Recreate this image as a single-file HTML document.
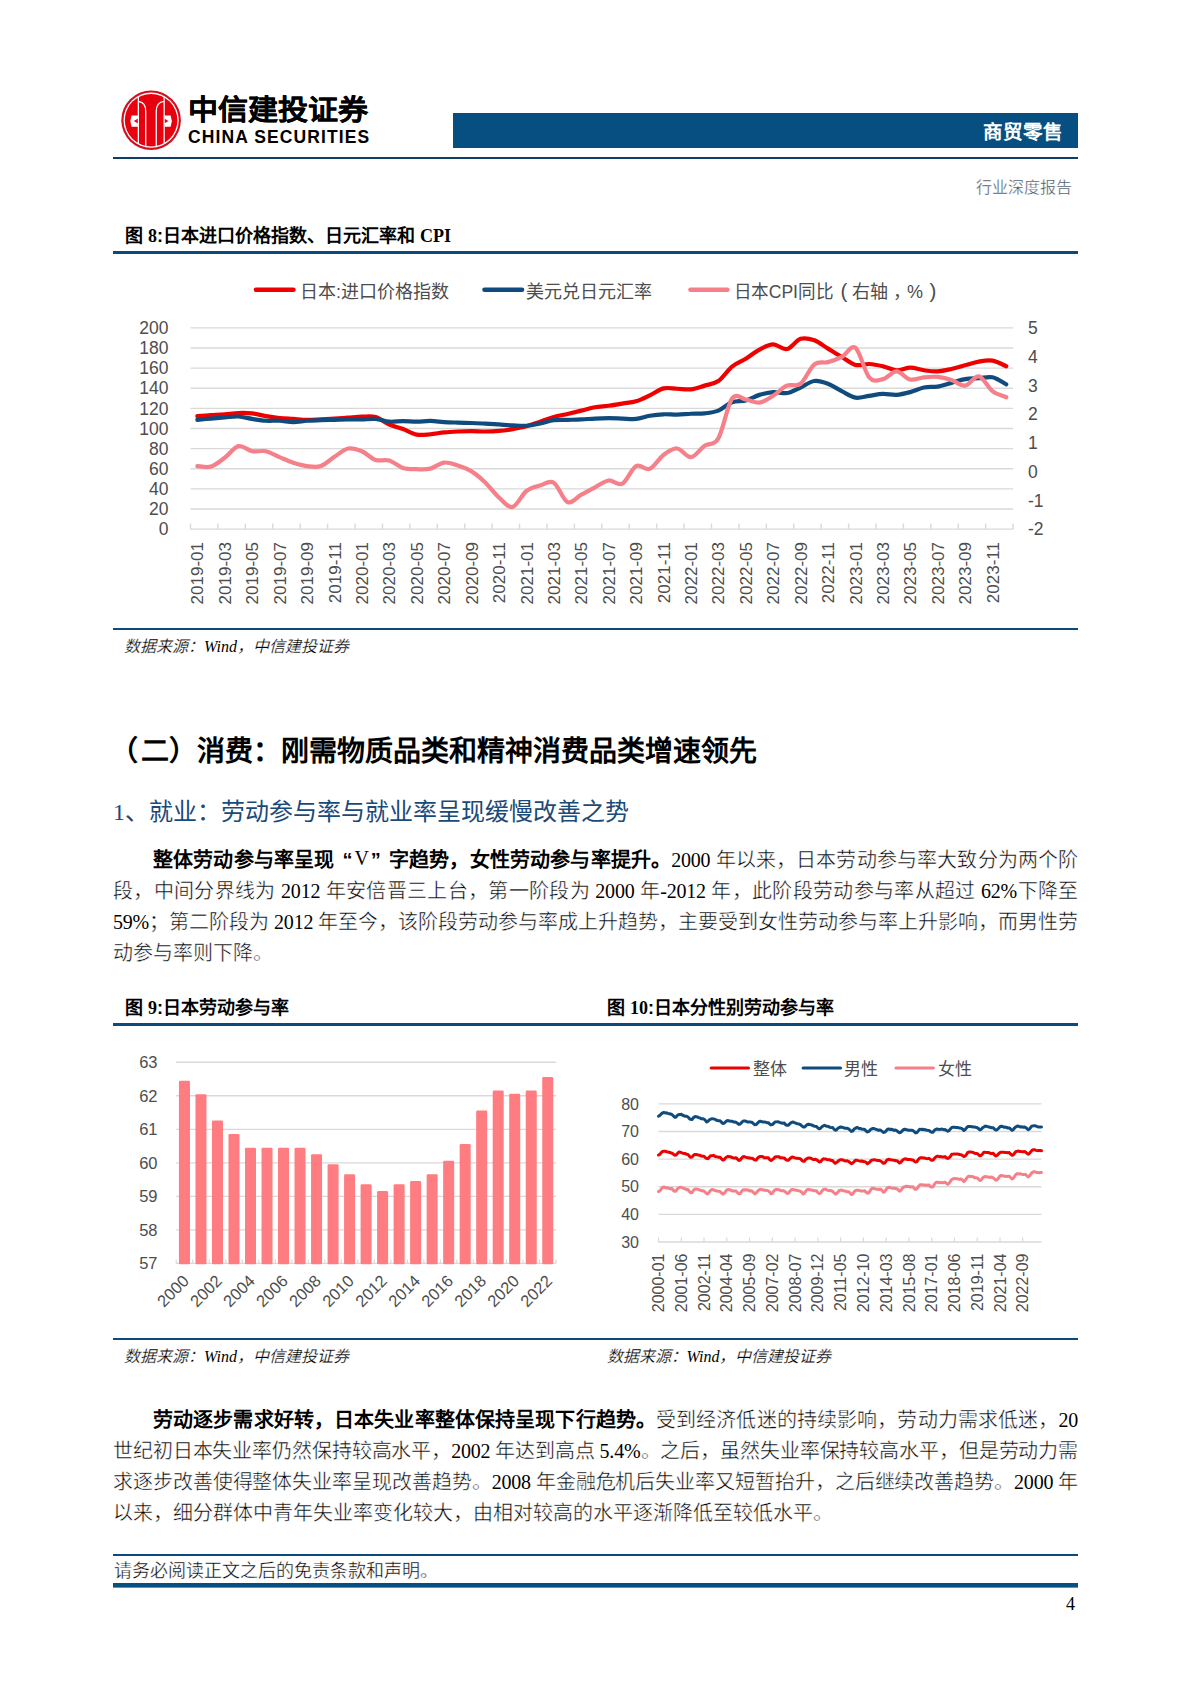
<!DOCTYPE html>
<html lang="zh-CN">
<head>
<meta charset="utf-8">
<style>
html,body{margin:0;padding:0;background:#fff;}
body{width:1190px;height:1683px;position:relative;overflow:hidden;font-family:"Liberation Serif",serif;color:#000;}
svg.pg{position:absolute;left:0;top:0;}
.ax{font-family:"Liberation Sans",sans-serif;fill:#4d4d4d;}
.a{position:absolute;white-space:nowrap;}
.sans{font-family:"Liberation Sans",sans-serif;}
.serif{font-family:"Liberation Serif",serif;}
.ln{position:absolute;left:113px;width:965px;font-size:20px;line-height:20px;height:20px;white-space:nowrap;text-align:justify;text-align-last:justify;color:#000;letter-spacing:-0.2px;}
.q{display:inline-block;width:20px;}
.thin{-webkit-text-stroke:0.45px #fff;}
.ln{-webkit-text-stroke:0.45px #fff;}
.ln .b,.lat{-webkit-text-stroke:0;}
.ln.last{text-align:left;text-align-last:left;letter-spacing:0;}
.b{font-family:"Liberation Sans",sans-serif;font-weight:bold;}
.bs{font-family:"Liberation Serif",serif;font-weight:bold;}
.ft{font-size:18px;line-height:18px;font-weight:bold;font-family:"Liberation Sans",sans-serif;}
.src{font-size:16px;line-height:16px;font-style:italic;color:#000;-webkit-text-stroke:0.2px #fff;}
</style>
</head>
<body>
<svg class="pg" width="1190" height="1683" viewBox="0 0 1190 1683">
<circle cx="151.1" cy="120.2" r="29.8" fill="#d0101e"/>
<circle cx="151.1" cy="120.2" r="27.6" fill="#fff"/>
<circle cx="151.1" cy="120.2" r="26.3" fill="#e8000f"/>
<line x1="138.35" y1="96.62" x2="138.35" y2="143.78" stroke="#fff" stroke-width="1.25"/>
<line x1="164.15" y1="96.79" x2="164.15" y2="143.61" stroke="#fff" stroke-width="1.25"/>
<path d="M145.73,146.46 L145.73,111.37 C145.73,104.87 142.73,101.87 138.35,101.37" fill="none" stroke="#fff" stroke-width="1.25"/>
<path d="M156.27,146.50 L156.27,111.37 C156.27,104.87 159.27,101.87 164.15,101.37" fill="none" stroke="#fff" stroke-width="1.25"/>
<polygon points="131.59,115.45 137.97,115.45 137.97,118.50 133.81,121.00 137.97,123.50 137.97,126.82 131.59,126.82 130.31,121.11" fill="#fff"/>
<polygon points="170.63,115.45 164.26,115.45 164.26,118.50 168.42,121.00 164.26,123.50 164.26,126.82 170.63,126.82 171.91,121.11" fill="#fff"/>
<rect x="453" y="113" width="625" height="35" fill="#064f80"/>
<rect x="113" y="157" width="965" height="2" fill="#0d3f66"/>
<rect x="113" y="251" width="965" height="3" fill="#0b4a7a"/>
<line x1="190.5" y1="529.10" x2="1013.1" y2="529.10" stroke="#d9d9d9" stroke-width="1.4"/>
<line x1="190.5" y1="508.98" x2="1013.1" y2="508.98" stroke="#d9d9d9" stroke-width="1.4"/>
<line x1="190.5" y1="488.86" x2="1013.1" y2="488.86" stroke="#d9d9d9" stroke-width="1.4"/>
<line x1="190.5" y1="468.74" x2="1013.1" y2="468.74" stroke="#d9d9d9" stroke-width="1.4"/>
<line x1="190.5" y1="448.62" x2="1013.1" y2="448.62" stroke="#d9d9d9" stroke-width="1.4"/>
<line x1="190.5" y1="428.50" x2="1013.1" y2="428.50" stroke="#d9d9d9" stroke-width="1.4"/>
<line x1="190.5" y1="408.38" x2="1013.1" y2="408.38" stroke="#d9d9d9" stroke-width="1.4"/>
<line x1="190.5" y1="388.26" x2="1013.1" y2="388.26" stroke="#d9d9d9" stroke-width="1.4"/>
<line x1="190.5" y1="368.14" x2="1013.1" y2="368.14" stroke="#d9d9d9" stroke-width="1.4"/>
<line x1="190.5" y1="348.02" x2="1013.1" y2="348.02" stroke="#d9d9d9" stroke-width="1.4"/>
<line x1="190.5" y1="327.90" x2="1013.1" y2="327.90" stroke="#d9d9d9" stroke-width="1.4"/>
<line x1="190.50" y1="523.60" x2="190.50" y2="529.10" stroke="#d9d9d9" stroke-width="1.4"/>
<line x1="217.92" y1="523.60" x2="217.92" y2="529.10" stroke="#d9d9d9" stroke-width="1.4"/>
<line x1="245.34" y1="523.60" x2="245.34" y2="529.10" stroke="#d9d9d9" stroke-width="1.4"/>
<line x1="272.76" y1="523.60" x2="272.76" y2="529.10" stroke="#d9d9d9" stroke-width="1.4"/>
<line x1="300.18" y1="523.60" x2="300.18" y2="529.10" stroke="#d9d9d9" stroke-width="1.4"/>
<line x1="327.60" y1="523.60" x2="327.60" y2="529.10" stroke="#d9d9d9" stroke-width="1.4"/>
<line x1="355.02" y1="523.60" x2="355.02" y2="529.10" stroke="#d9d9d9" stroke-width="1.4"/>
<line x1="382.44" y1="523.60" x2="382.44" y2="529.10" stroke="#d9d9d9" stroke-width="1.4"/>
<line x1="409.86" y1="523.60" x2="409.86" y2="529.10" stroke="#d9d9d9" stroke-width="1.4"/>
<line x1="437.28" y1="523.60" x2="437.28" y2="529.10" stroke="#d9d9d9" stroke-width="1.4"/>
<line x1="464.70" y1="523.60" x2="464.70" y2="529.10" stroke="#d9d9d9" stroke-width="1.4"/>
<line x1="492.12" y1="523.60" x2="492.12" y2="529.10" stroke="#d9d9d9" stroke-width="1.4"/>
<line x1="519.54" y1="523.60" x2="519.54" y2="529.10" stroke="#d9d9d9" stroke-width="1.4"/>
<line x1="546.96" y1="523.60" x2="546.96" y2="529.10" stroke="#d9d9d9" stroke-width="1.4"/>
<line x1="574.38" y1="523.60" x2="574.38" y2="529.10" stroke="#d9d9d9" stroke-width="1.4"/>
<line x1="601.80" y1="523.60" x2="601.80" y2="529.10" stroke="#d9d9d9" stroke-width="1.4"/>
<line x1="629.22" y1="523.60" x2="629.22" y2="529.10" stroke="#d9d9d9" stroke-width="1.4"/>
<line x1="656.64" y1="523.60" x2="656.64" y2="529.10" stroke="#d9d9d9" stroke-width="1.4"/>
<line x1="684.06" y1="523.60" x2="684.06" y2="529.10" stroke="#d9d9d9" stroke-width="1.4"/>
<line x1="711.48" y1="523.60" x2="711.48" y2="529.10" stroke="#d9d9d9" stroke-width="1.4"/>
<line x1="738.90" y1="523.60" x2="738.90" y2="529.10" stroke="#d9d9d9" stroke-width="1.4"/>
<line x1="766.32" y1="523.60" x2="766.32" y2="529.10" stroke="#d9d9d9" stroke-width="1.4"/>
<line x1="793.74" y1="523.60" x2="793.74" y2="529.10" stroke="#d9d9d9" stroke-width="1.4"/>
<line x1="821.16" y1="523.60" x2="821.16" y2="529.10" stroke="#d9d9d9" stroke-width="1.4"/>
<line x1="848.58" y1="523.60" x2="848.58" y2="529.10" stroke="#d9d9d9" stroke-width="1.4"/>
<line x1="876.00" y1="523.60" x2="876.00" y2="529.10" stroke="#d9d9d9" stroke-width="1.4"/>
<line x1="903.42" y1="523.60" x2="903.42" y2="529.10" stroke="#d9d9d9" stroke-width="1.4"/>
<line x1="930.84" y1="523.60" x2="930.84" y2="529.10" stroke="#d9d9d9" stroke-width="1.4"/>
<line x1="958.26" y1="523.60" x2="958.26" y2="529.10" stroke="#d9d9d9" stroke-width="1.4"/>
<line x1="985.68" y1="523.60" x2="985.68" y2="529.10" stroke="#d9d9d9" stroke-width="1.4"/>
<line x1="1013.10" y1="523.60" x2="1013.10" y2="529.10" stroke="#d9d9d9" stroke-width="1.4"/>
<text x="168.5" y="535.30" text-anchor="end" class="ax" font-size="17.5">0</text>
<text x="168.5" y="515.18" text-anchor="end" class="ax" font-size="17.5">20</text>
<text x="168.5" y="495.06" text-anchor="end" class="ax" font-size="17.5">40</text>
<text x="168.5" y="474.94" text-anchor="end" class="ax" font-size="17.5">60</text>
<text x="168.5" y="454.82" text-anchor="end" class="ax" font-size="17.5">80</text>
<text x="168.5" y="434.70" text-anchor="end" class="ax" font-size="17.5">100</text>
<text x="168.5" y="414.58" text-anchor="end" class="ax" font-size="17.5">120</text>
<text x="168.5" y="394.46" text-anchor="end" class="ax" font-size="17.5">140</text>
<text x="168.5" y="374.34" text-anchor="end" class="ax" font-size="17.5">160</text>
<text x="168.5" y="354.22" text-anchor="end" class="ax" font-size="17.5">180</text>
<text x="168.5" y="334.10" text-anchor="end" class="ax" font-size="17.5">200</text>
<text x="1028" y="535.30" class="ax" font-size="17.5">-2</text>
<text x="1028" y="506.56" class="ax" font-size="17.5">-1</text>
<text x="1028" y="477.81" class="ax" font-size="17.5">0</text>
<text x="1028" y="449.07" class="ax" font-size="17.5">1</text>
<text x="1028" y="420.33" class="ax" font-size="17.5">2</text>
<text x="1028" y="391.59" class="ax" font-size="17.5">3</text>
<text x="1028" y="362.84" class="ax" font-size="17.5">4</text>
<text x="1028" y="334.10" class="ax" font-size="17.5">5</text>
<text transform="translate(203.45,542) rotate(-90)" text-anchor="end" class="ax" font-size="17">2019-01</text>
<text transform="translate(230.88,542) rotate(-90)" text-anchor="end" class="ax" font-size="17">2019-03</text>
<text transform="translate(258.30,542) rotate(-90)" text-anchor="end" class="ax" font-size="17">2019-05</text>
<text transform="translate(285.72,542) rotate(-90)" text-anchor="end" class="ax" font-size="17">2019-07</text>
<text transform="translate(313.14,542) rotate(-90)" text-anchor="end" class="ax" font-size="17">2019-09</text>
<text transform="translate(340.56,542) rotate(-90)" text-anchor="end" class="ax" font-size="17">2019-11</text>
<text transform="translate(367.98,542) rotate(-90)" text-anchor="end" class="ax" font-size="17">2020-01</text>
<text transform="translate(395.40,542) rotate(-90)" text-anchor="end" class="ax" font-size="17">2020-03</text>
<text transform="translate(422.82,542) rotate(-90)" text-anchor="end" class="ax" font-size="17">2020-05</text>
<text transform="translate(450.24,542) rotate(-90)" text-anchor="end" class="ax" font-size="17">2020-07</text>
<text transform="translate(477.66,542) rotate(-90)" text-anchor="end" class="ax" font-size="17">2020-09</text>
<text transform="translate(505.08,542) rotate(-90)" text-anchor="end" class="ax" font-size="17">2020-11</text>
<text transform="translate(532.50,542) rotate(-90)" text-anchor="end" class="ax" font-size="17">2021-01</text>
<text transform="translate(559.92,542) rotate(-90)" text-anchor="end" class="ax" font-size="17">2021-03</text>
<text transform="translate(587.34,542) rotate(-90)" text-anchor="end" class="ax" font-size="17">2021-05</text>
<text transform="translate(614.75,542) rotate(-90)" text-anchor="end" class="ax" font-size="17">2021-07</text>
<text transform="translate(642.18,542) rotate(-90)" text-anchor="end" class="ax" font-size="17">2021-09</text>
<text transform="translate(669.60,542) rotate(-90)" text-anchor="end" class="ax" font-size="17">2021-11</text>
<text transform="translate(697.01,542) rotate(-90)" text-anchor="end" class="ax" font-size="17">2022-01</text>
<text transform="translate(724.44,542) rotate(-90)" text-anchor="end" class="ax" font-size="17">2022-03</text>
<text transform="translate(751.86,542) rotate(-90)" text-anchor="end" class="ax" font-size="17">2022-05</text>
<text transform="translate(779.28,542) rotate(-90)" text-anchor="end" class="ax" font-size="17">2022-07</text>
<text transform="translate(806.70,542) rotate(-90)" text-anchor="end" class="ax" font-size="17">2022-09</text>
<text transform="translate(834.12,542) rotate(-90)" text-anchor="end" class="ax" font-size="17">2022-11</text>
<text transform="translate(861.54,542) rotate(-90)" text-anchor="end" class="ax" font-size="17">2023-01</text>
<text transform="translate(888.96,542) rotate(-90)" text-anchor="end" class="ax" font-size="17">2023-03</text>
<text transform="translate(916.38,542) rotate(-90)" text-anchor="end" class="ax" font-size="17">2023-05</text>
<text transform="translate(943.80,542) rotate(-90)" text-anchor="end" class="ax" font-size="17">2023-07</text>
<text transform="translate(971.22,542) rotate(-90)" text-anchor="end" class="ax" font-size="17">2023-09</text>
<text transform="translate(998.64,542) rotate(-90)" text-anchor="end" class="ax" font-size="17">2023-11</text>
<path d="M197.35,416.14 C199.64,415.98 206.50,415.52 211.06,415.21 C215.63,414.90 220.21,414.66 224.78,414.29 C229.34,413.92 233.92,413.15 238.49,412.99 C243.06,412.84 247.62,412.84 252.19,413.36 C256.76,413.89 261.33,415.37 265.90,416.14 C270.47,416.91 275.05,417.52 279.62,417.98 C284.19,418.45 288.75,418.60 293.32,418.91 C297.89,419.22 302.47,419.77 307.04,419.83 C311.61,419.90 316.18,419.49 320.75,419.28 C325.31,419.06 329.89,418.82 334.46,418.54 C339.03,418.26 343.60,417.92 348.17,417.62 C352.74,417.31 357.31,416.78 361.88,416.69 C366.44,416.60 371.02,415.77 375.59,417.06 C380.16,418.35 384.73,422.45 389.30,424.46 C393.87,426.46 398.44,427.38 403.00,429.08 C407.57,430.77 412.15,433.76 416.72,434.62 C421.29,435.49 425.86,434.62 430.43,434.25 C435.00,433.88 439.56,432.87 444.13,432.41 C448.70,431.94 453.28,431.70 457.85,431.48 C462.42,431.27 466.99,431.11 471.56,431.11 C476.12,431.11 480.70,431.51 485.27,431.48 C489.84,431.45 494.41,431.33 498.98,430.93 C503.55,430.53 508.11,429.85 512.68,429.08 C517.25,428.31 521.82,427.54 526.39,426.30 C530.97,425.07 535.53,423.22 540.11,421.68 C544.68,420.14 549.25,418.35 553.82,417.06 C558.39,415.77 562.96,415.00 567.53,413.92 C572.10,412.84 576.66,411.70 581.24,410.59 C585.81,409.48 590.38,408.06 594.95,407.26 C599.52,406.46 604.09,406.40 608.65,405.78 C613.22,405.17 617.79,404.30 622.37,403.56 C626.94,402.82 631.50,402.70 636.08,401.35 C640.65,399.99 645.22,397.59 649.79,395.43 C654.36,393.27 658.92,389.51 663.50,388.40 C668.07,387.30 672.63,388.62 677.21,388.77 C681.78,388.93 686.35,389.85 690.91,389.33 C695.48,388.81 700.05,387.02 704.62,385.63 C709.20,384.24 713.76,384.18 718.34,381.01 C722.91,377.84 727.48,370.29 732.05,366.59 C736.62,362.89 741.18,361.66 745.75,358.82 C750.33,355.99 754.89,351.98 759.47,349.58 C764.04,347.18 768.61,344.50 773.18,344.40 C777.75,344.31 782.32,349.95 786.88,349.03 C791.45,348.10 796.02,340.31 800.60,338.86 C805.17,337.41 809.74,338.70 814.31,340.34 C818.88,341.97 823.44,345.88 828.01,348.66 C832.59,351.43 837.15,354.26 841.73,356.98 C846.30,359.69 850.87,363.75 855.44,364.93 C860.01,366.10 864.58,363.79 869.15,364.00 C873.72,364.22 878.29,365.17 882.86,366.22 C887.42,367.27 892.00,370.04 896.57,370.29 C901.14,370.53 905.71,367.70 910.28,367.70 C914.85,367.70 919.41,369.67 923.99,370.29 C928.56,370.90 933.12,371.61 937.70,371.40 C942.27,371.18 946.84,370.01 951.41,368.99 C955.98,367.98 960.55,366.53 965.12,365.29 C969.68,364.06 974.25,362.37 978.83,361.60 C983.40,360.83 987.97,359.90 992.54,360.67 C997.11,361.44 1003.96,365.29 1006.25,366.22" fill="none" stroke="#ee0000" stroke-width="4.2" stroke-linejoin="round" stroke-linecap="round"/>
<path d="M197.35,419.83 C199.64,419.62 206.50,418.94 211.06,418.54 C215.63,418.14 220.21,417.77 224.78,417.43 C229.34,417.09 233.92,416.26 238.49,416.51 C243.06,416.75 247.62,418.20 252.19,418.91 C256.76,419.62 261.33,420.45 265.90,420.76 C270.47,421.07 275.05,420.51 279.62,420.76 C284.19,421.00 288.75,422.24 293.32,422.24 C297.89,422.24 302.47,421.10 307.04,420.76 C311.61,420.42 316.18,420.36 320.75,420.20 C325.31,420.05 329.89,419.96 334.46,419.83 C339.03,419.71 343.60,419.56 348.17,419.46 C352.74,419.37 357.31,419.37 361.88,419.28 C366.44,419.19 371.02,418.51 375.59,418.91 C380.16,419.31 384.73,421.31 389.30,421.68 C393.87,422.05 398.44,421.13 403.00,421.13 C407.57,421.13 412.15,421.71 416.72,421.68 C421.29,421.65 425.86,420.88 430.43,420.94 C435.00,421.00 439.56,421.77 444.13,422.05 C448.70,422.33 453.28,422.45 457.85,422.61 C462.42,422.76 466.99,422.82 471.56,422.98 C476.12,423.13 480.70,423.28 485.27,423.53 C489.84,423.78 494.41,424.15 498.98,424.46 C503.55,424.76 508.11,425.16 512.68,425.38 C517.25,425.60 521.82,426.06 526.39,425.75 C530.97,425.44 535.53,424.46 540.11,423.53 C544.68,422.61 549.25,420.82 553.82,420.20 C558.39,419.59 562.96,419.96 567.53,419.83 C572.10,419.71 576.66,419.68 581.24,419.46 C585.81,419.25 590.38,418.76 594.95,418.54 C599.52,418.32 604.09,418.17 608.65,418.17 C613.22,418.17 617.79,418.42 622.37,418.54 C626.94,418.66 631.50,419.37 636.08,418.91 C640.65,418.45 645.22,416.54 649.79,415.77 C654.36,415.00 658.92,414.47 663.50,414.29 C668.07,414.10 672.63,414.75 677.21,414.66 C681.78,414.56 686.35,413.95 690.91,413.73 C695.48,413.52 700.05,413.89 704.62,413.36 C709.20,412.84 713.76,412.44 718.34,410.59 C722.91,408.74 727.48,403.96 732.05,402.27 C736.62,400.58 741.18,401.65 745.75,400.42 C750.33,399.19 754.89,396.26 759.47,394.88 C764.04,393.49 768.61,392.41 773.18,392.10 C777.75,391.79 782.32,393.80 786.88,393.03 C791.45,392.26 796.02,389.48 800.60,387.48 C805.17,385.48 809.74,381.63 814.31,381.01 C818.88,380.39 823.44,382.09 828.01,383.78 C832.59,385.48 837.15,388.87 841.73,391.18 C846.30,393.49 850.87,396.88 855.44,397.65 C860.01,398.42 864.58,396.42 869.15,395.80 C873.72,395.18 878.29,394.10 882.86,393.95 C887.42,393.80 892.00,395.18 896.57,394.88 C901.14,394.57 905.71,393.33 910.28,392.10 C914.85,390.87 919.41,388.40 923.99,387.48 C928.56,386.56 933.12,387.33 937.70,386.56 C942.27,385.79 946.84,384.09 951.41,382.86 C955.98,381.63 960.55,379.93 965.12,379.16 C969.68,378.39 974.25,378.54 978.83,378.24 C983.40,377.93 987.97,376.30 992.54,377.31 C997.11,378.33 1003.96,383.17 1006.25,384.34" fill="none" stroke="#0f4c7d" stroke-width="4.2" stroke-linejoin="round" stroke-linecap="round"/>
<path d="M197.35,466.05 C199.64,466.15 206.50,467.99 211.06,466.61 C215.63,465.22 220.21,461.15 224.78,457.73 C229.34,454.31 233.92,447.16 238.49,446.09 C243.06,445.01 247.62,450.40 252.19,451.26 C256.76,452.13 261.33,450.28 265.90,451.26 C270.47,452.25 275.05,455.27 279.62,457.18 C284.19,459.09 288.75,461.25 293.32,462.73 C297.89,464.20 302.47,465.50 307.04,466.05 C311.61,466.61 316.18,467.59 320.75,466.05 C325.31,464.51 329.89,459.74 334.46,456.81 C339.03,453.88 343.60,449.41 348.17,448.49 C352.74,447.57 357.31,449.35 361.88,451.26 C366.44,453.17 371.02,458.41 375.59,459.95 C380.16,461.49 384.73,459.18 389.30,460.51 C393.87,461.83 398.44,466.45 403.00,467.90 C407.57,469.35 412.15,469.07 416.72,469.20 C421.29,469.32 425.86,469.75 430.43,468.64 C435.00,467.53 439.56,463.06 444.13,462.54 C448.70,462.02 453.28,464.02 457.85,465.50 C462.42,466.98 466.99,468.58 471.56,471.41 C476.12,474.25 480.70,478.16 485.27,482.51 C489.84,486.85 494.41,493.41 498.98,497.48 C503.55,501.55 508.11,507.99 512.68,506.91 C517.25,505.83 521.82,494.59 526.39,491.01 C530.97,487.44 535.53,486.85 540.11,485.46 C544.68,484.08 549.25,479.92 553.82,482.69 C558.39,485.46 562.96,500.10 567.53,502.10 C572.10,504.11 576.66,497.17 581.24,494.71 C585.81,492.24 590.38,489.69 594.95,487.31 C599.52,484.94 604.09,481.09 608.65,480.47 C613.22,479.86 617.79,486.02 622.37,483.62 C626.94,481.21 631.50,468.52 636.08,466.05 C640.65,463.59 645.22,470.67 649.79,468.83 C654.36,466.98 658.92,458.35 663.50,454.96 C668.07,451.57 672.63,448.12 677.21,448.49 C681.78,448.86 686.35,457.64 690.91,457.18 C695.48,456.72 700.05,448.86 704.62,445.72 C709.20,442.57 713.76,446.18 718.34,438.32 C722.91,430.46 727.48,405.04 732.05,398.57 C736.62,392.10 741.18,398.82 745.75,399.50 C750.33,400.18 754.89,403.26 759.47,402.64 C764.04,402.02 768.61,398.63 773.18,395.80 C777.75,392.96 782.32,387.63 786.88,385.63 C791.45,383.63 796.02,387.33 800.60,383.78 C805.17,380.24 809.74,367.98 814.31,364.37 C818.88,360.77 823.44,363.38 828.01,362.15 C832.59,360.92 837.15,359.38 841.73,356.98 C846.30,354.57 850.87,344.34 855.44,347.73 C860.01,351.12 864.58,372.07 869.15,377.31 C873.72,382.55 878.29,380.15 882.86,379.16 C887.42,378.17 892.00,371.33 896.57,371.40 C901.14,371.46 905.71,378.54 910.28,379.53 C914.85,380.52 919.41,377.74 923.99,377.31 C928.56,376.88 933.12,376.48 937.70,376.94 C942.27,377.40 946.84,378.64 951.41,380.09 C955.98,381.53 960.55,386.25 965.12,385.63 C969.68,385.02 974.25,375.46 978.83,376.39 C983.40,377.31 987.97,387.70 992.54,391.18 C997.11,394.66 1003.96,396.26 1006.25,397.28" fill="none" stroke="#f5808a" stroke-width="4.2" stroke-linejoin="round" stroke-linecap="round"/>
<line x1="256" y1="289.7" x2="293.4" y2="289.7" stroke="#ee0000" stroke-width="4.6" stroke-linecap="round"/>
<text x="300" y="297.5" class="ax" font-size="18">日本:进口价格指数</text>
<line x1="484.5" y1="289.7" x2="522" y2="289.7" stroke="#0f4c7d" stroke-width="4.6" stroke-linecap="round"/>
<text x="526" y="297.5" class="ax" font-size="18">美元兑日元汇率</text>
<line x1="690.5" y1="289.7" x2="727.4" y2="289.7" stroke="#f5808a" stroke-width="4.6" stroke-linecap="round"/>
<text y="297.5" class="ax" font-size="18"><tspan x="733.6" textLength="99.5" lengthAdjust="spacingAndGlyphs">日本CPI同比</tspan><tspan x="840.5" font-size="20.5">(</tspan><tspan x="852">右轴</tspan><tspan x="892.5">，</tspan><tspan x="907">%</tspan><tspan x="929.5" font-size="20.5">)</tspan></text>
<rect x="113" y="628" width="965" height="2" fill="#0b4a7a"/>
<rect x="113" y="1023" width="965" height="3" fill="#0b4a7a"/>
<rect x="113" y="1338" width="965" height="2" fill="#0b4a7a"/>
<line x1="176.2" y1="1263.40" x2="556.0" y2="1263.40" stroke="#d9d9d9" stroke-width="1.4"/>
<text x="157.5" y="1269.20" text-anchor="end" class="ax" font-size="16.5">57</text>
<line x1="176.2" y1="1229.88" x2="556.0" y2="1229.88" stroke="#d9d9d9" stroke-width="1.4"/>
<text x="157.5" y="1235.68" text-anchor="end" class="ax" font-size="16.5">58</text>
<line x1="176.2" y1="1196.37" x2="556.0" y2="1196.37" stroke="#d9d9d9" stroke-width="1.4"/>
<text x="157.5" y="1202.17" text-anchor="end" class="ax" font-size="16.5">59</text>
<line x1="176.2" y1="1162.85" x2="556.0" y2="1162.85" stroke="#d9d9d9" stroke-width="1.4"/>
<text x="157.5" y="1168.65" text-anchor="end" class="ax" font-size="16.5">60</text>
<line x1="176.2" y1="1129.33" x2="556.0" y2="1129.33" stroke="#d9d9d9" stroke-width="1.4"/>
<text x="157.5" y="1135.13" text-anchor="end" class="ax" font-size="16.5">61</text>
<line x1="176.2" y1="1095.82" x2="556.0" y2="1095.82" stroke="#d9d9d9" stroke-width="1.4"/>
<text x="157.5" y="1101.62" text-anchor="end" class="ax" font-size="16.5">62</text>
<line x1="176.2" y1="1062.30" x2="556.0" y2="1062.30" stroke="#d9d9d9" stroke-width="1.4"/>
<text x="157.5" y="1068.10" text-anchor="end" class="ax" font-size="16.5">63</text>
<line x1="176.20" y1="1259.40" x2="176.20" y2="1263.40" stroke="#d9d9d9" stroke-width="1.2"/>
<line x1="192.71" y1="1259.40" x2="192.71" y2="1263.40" stroke="#d9d9d9" stroke-width="1.2"/>
<line x1="209.23" y1="1259.40" x2="209.23" y2="1263.40" stroke="#d9d9d9" stroke-width="1.2"/>
<line x1="225.74" y1="1259.40" x2="225.74" y2="1263.40" stroke="#d9d9d9" stroke-width="1.2"/>
<line x1="242.25" y1="1259.40" x2="242.25" y2="1263.40" stroke="#d9d9d9" stroke-width="1.2"/>
<line x1="258.77" y1="1259.40" x2="258.77" y2="1263.40" stroke="#d9d9d9" stroke-width="1.2"/>
<line x1="275.28" y1="1259.40" x2="275.28" y2="1263.40" stroke="#d9d9d9" stroke-width="1.2"/>
<line x1="291.79" y1="1259.40" x2="291.79" y2="1263.40" stroke="#d9d9d9" stroke-width="1.2"/>
<line x1="308.30" y1="1259.40" x2="308.30" y2="1263.40" stroke="#d9d9d9" stroke-width="1.2"/>
<line x1="324.82" y1="1259.40" x2="324.82" y2="1263.40" stroke="#d9d9d9" stroke-width="1.2"/>
<line x1="341.33" y1="1259.40" x2="341.33" y2="1263.40" stroke="#d9d9d9" stroke-width="1.2"/>
<line x1="357.84" y1="1259.40" x2="357.84" y2="1263.40" stroke="#d9d9d9" stroke-width="1.2"/>
<line x1="374.36" y1="1259.40" x2="374.36" y2="1263.40" stroke="#d9d9d9" stroke-width="1.2"/>
<line x1="390.87" y1="1259.40" x2="390.87" y2="1263.40" stroke="#d9d9d9" stroke-width="1.2"/>
<line x1="407.38" y1="1259.40" x2="407.38" y2="1263.40" stroke="#d9d9d9" stroke-width="1.2"/>
<line x1="423.90" y1="1259.40" x2="423.90" y2="1263.40" stroke="#d9d9d9" stroke-width="1.2"/>
<line x1="440.41" y1="1259.40" x2="440.41" y2="1263.40" stroke="#d9d9d9" stroke-width="1.2"/>
<line x1="456.92" y1="1259.40" x2="456.92" y2="1263.40" stroke="#d9d9d9" stroke-width="1.2"/>
<line x1="473.43" y1="1259.40" x2="473.43" y2="1263.40" stroke="#d9d9d9" stroke-width="1.2"/>
<line x1="489.95" y1="1259.40" x2="489.95" y2="1263.40" stroke="#d9d9d9" stroke-width="1.2"/>
<line x1="506.46" y1="1259.40" x2="506.46" y2="1263.40" stroke="#d9d9d9" stroke-width="1.2"/>
<line x1="522.97" y1="1259.40" x2="522.97" y2="1263.40" stroke="#d9d9d9" stroke-width="1.2"/>
<line x1="539.49" y1="1259.40" x2="539.49" y2="1263.40" stroke="#d9d9d9" stroke-width="1.2"/>
<line x1="556.00" y1="1259.40" x2="556.00" y2="1263.40" stroke="#d9d9d9" stroke-width="1.2"/>
<rect x="178.95" y="1080.73" width="11.01" height="183.47" rx="1.2" fill="#ff7c80"/>
<rect x="195.47" y="1094.14" width="11.01" height="170.06" rx="1.2" fill="#ff7c80"/>
<rect x="211.98" y="1120.62" width="11.01" height="143.58" rx="1.2" fill="#ff7c80"/>
<rect x="228.49" y="1134.03" width="11.01" height="130.17" rx="1.2" fill="#ff7c80"/>
<rect x="245.00" y="1147.77" width="11.01" height="116.43" rx="1.2" fill="#ff7c80"/>
<rect x="261.52" y="1147.77" width="11.01" height="116.43" rx="1.2" fill="#ff7c80"/>
<rect x="278.03" y="1147.77" width="11.01" height="116.43" rx="1.2" fill="#ff7c80"/>
<rect x="294.54" y="1147.77" width="11.01" height="116.43" rx="1.2" fill="#ff7c80"/>
<rect x="311.06" y="1154.14" width="11.01" height="110.06" rx="1.2" fill="#ff7c80"/>
<rect x="327.57" y="1164.19" width="11.01" height="100.01" rx="1.2" fill="#ff7c80"/>
<rect x="344.08" y="1174.25" width="11.01" height="89.95" rx="1.2" fill="#ff7c80"/>
<rect x="360.60" y="1184.30" width="11.01" height="79.90" rx="1.2" fill="#ff7c80"/>
<rect x="377.11" y="1191.00" width="11.01" height="73.20" rx="1.2" fill="#ff7c80"/>
<rect x="393.62" y="1184.30" width="11.01" height="79.90" rx="1.2" fill="#ff7c80"/>
<rect x="410.13" y="1180.95" width="11.01" height="83.25" rx="1.2" fill="#ff7c80"/>
<rect x="426.65" y="1174.25" width="11.01" height="89.95" rx="1.2" fill="#ff7c80"/>
<rect x="443.16" y="1160.84" width="11.01" height="103.36" rx="1.2" fill="#ff7c80"/>
<rect x="459.67" y="1144.08" width="11.01" height="120.12" rx="1.2" fill="#ff7c80"/>
<rect x="476.19" y="1110.56" width="11.01" height="153.64" rx="1.2" fill="#ff7c80"/>
<rect x="492.70" y="1090.45" width="11.01" height="173.75" rx="1.2" fill="#ff7c80"/>
<rect x="509.21" y="1093.81" width="11.01" height="170.39" rx="1.2" fill="#ff7c80"/>
<rect x="525.73" y="1090.45" width="11.01" height="173.75" rx="1.2" fill="#ff7c80"/>
<rect x="542.24" y="1077.05" width="11.01" height="187.15" rx="1.2" fill="#ff7c80"/>
<text transform="translate(189.96,1282) rotate(-45)" text-anchor="end" class="ax" font-size="16.5">2000</text>
<text transform="translate(222.98,1282) rotate(-45)" text-anchor="end" class="ax" font-size="16.5">2002</text>
<text transform="translate(256.01,1282) rotate(-45)" text-anchor="end" class="ax" font-size="16.5">2004</text>
<text transform="translate(289.03,1282) rotate(-45)" text-anchor="end" class="ax" font-size="16.5">2006</text>
<text transform="translate(322.06,1282) rotate(-45)" text-anchor="end" class="ax" font-size="16.5">2008</text>
<text transform="translate(355.09,1282) rotate(-45)" text-anchor="end" class="ax" font-size="16.5">2010</text>
<text transform="translate(388.11,1282) rotate(-45)" text-anchor="end" class="ax" font-size="16.5">2012</text>
<text transform="translate(421.14,1282) rotate(-45)" text-anchor="end" class="ax" font-size="16.5">2014</text>
<text transform="translate(454.17,1282) rotate(-45)" text-anchor="end" class="ax" font-size="16.5">2016</text>
<text transform="translate(487.19,1282) rotate(-45)" text-anchor="end" class="ax" font-size="16.5">2018</text>
<text transform="translate(520.22,1282) rotate(-45)" text-anchor="end" class="ax" font-size="16.5">2020</text>
<text transform="translate(553.24,1282) rotate(-45)" text-anchor="end" class="ax" font-size="16.5">2022</text>
<line x1="658.5" y1="1242.00" x2="1041.5" y2="1242.00" stroke="#d9d9d9" stroke-width="1.4"/>
<text x="639" y="1247.60" text-anchor="end" class="ax" font-size="16">30</text>
<line x1="658.5" y1="1214.38" x2="1041.5" y2="1214.38" stroke="#d9d9d9" stroke-width="1.4"/>
<text x="639" y="1219.98" text-anchor="end" class="ax" font-size="16">40</text>
<line x1="658.5" y1="1186.76" x2="1041.5" y2="1186.76" stroke="#d9d9d9" stroke-width="1.4"/>
<text x="639" y="1192.36" text-anchor="end" class="ax" font-size="16">50</text>
<line x1="658.5" y1="1159.14" x2="1041.5" y2="1159.14" stroke="#d9d9d9" stroke-width="1.4"/>
<text x="639" y="1164.74" text-anchor="end" class="ax" font-size="16">60</text>
<line x1="658.5" y1="1131.52" x2="1041.5" y2="1131.52" stroke="#d9d9d9" stroke-width="1.4"/>
<text x="639" y="1137.12" text-anchor="end" class="ax" font-size="16">70</text>
<line x1="658.5" y1="1103.90" x2="1041.5" y2="1103.90" stroke="#d9d9d9" stroke-width="1.4"/>
<text x="639" y="1109.50" text-anchor="end" class="ax" font-size="16">80</text>
<line x1="658.50" y1="1237.50" x2="658.50" y2="1242.00" stroke="#d9d9d9" stroke-width="1.2"/>
<text transform="translate(664.10,1253.5) rotate(-90)" text-anchor="end" class="ax" font-size="16">2000-01</text>
<line x1="681.27" y1="1237.50" x2="681.27" y2="1242.00" stroke="#d9d9d9" stroke-width="1.2"/>
<text transform="translate(686.87,1253.5) rotate(-90)" text-anchor="end" class="ax" font-size="16">2001-06</text>
<line x1="704.03" y1="1237.50" x2="704.03" y2="1242.00" stroke="#d9d9d9" stroke-width="1.2"/>
<text transform="translate(709.63,1253.5) rotate(-90)" text-anchor="end" class="ax" font-size="16">2002-11</text>
<line x1="726.80" y1="1237.50" x2="726.80" y2="1242.00" stroke="#d9d9d9" stroke-width="1.2"/>
<text transform="translate(732.40,1253.5) rotate(-90)" text-anchor="end" class="ax" font-size="16">2004-04</text>
<line x1="749.56" y1="1237.50" x2="749.56" y2="1242.00" stroke="#d9d9d9" stroke-width="1.2"/>
<text transform="translate(755.16,1253.5) rotate(-90)" text-anchor="end" class="ax" font-size="16">2005-09</text>
<line x1="772.33" y1="1237.50" x2="772.33" y2="1242.00" stroke="#d9d9d9" stroke-width="1.2"/>
<text transform="translate(777.93,1253.5) rotate(-90)" text-anchor="end" class="ax" font-size="16">2007-02</text>
<line x1="795.09" y1="1237.50" x2="795.09" y2="1242.00" stroke="#d9d9d9" stroke-width="1.2"/>
<text transform="translate(800.69,1253.5) rotate(-90)" text-anchor="end" class="ax" font-size="16">2008-07</text>
<line x1="817.86" y1="1237.50" x2="817.86" y2="1242.00" stroke="#d9d9d9" stroke-width="1.2"/>
<text transform="translate(823.46,1253.5) rotate(-90)" text-anchor="end" class="ax" font-size="16">2009-12</text>
<line x1="840.63" y1="1237.50" x2="840.63" y2="1242.00" stroke="#d9d9d9" stroke-width="1.2"/>
<text transform="translate(846.23,1253.5) rotate(-90)" text-anchor="end" class="ax" font-size="16">2011-05</text>
<line x1="863.39" y1="1237.50" x2="863.39" y2="1242.00" stroke="#d9d9d9" stroke-width="1.2"/>
<text transform="translate(868.99,1253.5) rotate(-90)" text-anchor="end" class="ax" font-size="16">2012-10</text>
<line x1="886.16" y1="1237.50" x2="886.16" y2="1242.00" stroke="#d9d9d9" stroke-width="1.2"/>
<text transform="translate(891.76,1253.5) rotate(-90)" text-anchor="end" class="ax" font-size="16">2014-03</text>
<line x1="908.92" y1="1237.50" x2="908.92" y2="1242.00" stroke="#d9d9d9" stroke-width="1.2"/>
<text transform="translate(914.52,1253.5) rotate(-90)" text-anchor="end" class="ax" font-size="16">2015-08</text>
<line x1="931.69" y1="1237.50" x2="931.69" y2="1242.00" stroke="#d9d9d9" stroke-width="1.2"/>
<text transform="translate(937.29,1253.5) rotate(-90)" text-anchor="end" class="ax" font-size="16">2017-01</text>
<line x1="954.45" y1="1237.50" x2="954.45" y2="1242.00" stroke="#d9d9d9" stroke-width="1.2"/>
<text transform="translate(960.05,1253.5) rotate(-90)" text-anchor="end" class="ax" font-size="16">2018-06</text>
<line x1="977.22" y1="1237.50" x2="977.22" y2="1242.00" stroke="#d9d9d9" stroke-width="1.2"/>
<text transform="translate(982.82,1253.5) rotate(-90)" text-anchor="end" class="ax" font-size="16">2019-11</text>
<line x1="999.99" y1="1237.50" x2="999.99" y2="1242.00" stroke="#d9d9d9" stroke-width="1.2"/>
<text transform="translate(1005.59,1253.5) rotate(-90)" text-anchor="end" class="ax" font-size="16">2021-04</text>
<line x1="1022.75" y1="1237.50" x2="1022.75" y2="1242.00" stroke="#d9d9d9" stroke-width="1.2"/>
<text transform="translate(1028.35,1253.5) rotate(-90)" text-anchor="end" class="ax" font-size="16">2022-09</text>
<path d="M658.50,1191.56 L659.84,1190.82 L661.18,1189.14 L662.52,1187.37 L663.86,1186.99 L665.20,1187.55 L666.53,1187.95 L667.87,1187.79 L669.21,1188.55 L670.55,1188.77 L671.89,1188.47 L673.23,1190.28 L674.57,1191.31 L675.91,1191.04 L677.25,1189.16 L678.59,1187.89 L679.93,1187.23 L681.27,1187.28 L682.60,1187.96 L683.94,1188.33 L685.28,1188.90 L686.62,1189.64 L687.96,1189.52 L689.30,1191.23 L690.64,1192.84 L691.98,1192.64 L693.32,1190.46 L694.66,1189.26 L696.00,1188.90 L697.34,1189.14 L698.67,1189.71 L700.01,1189.97 L701.35,1190.73 L702.69,1190.69 L704.03,1191.15 L705.37,1192.30 L706.71,1193.64 L708.05,1193.67 L709.39,1191.89 L710.73,1190.27 L712.07,1189.46 L713.41,1190.04 L714.74,1190.29 L716.08,1190.87 L717.42,1191.09 L718.76,1191.35 L720.10,1191.55 L721.44,1192.84 L722.78,1194.09 L724.12,1193.34 L725.46,1191.69 L726.80,1189.91 L728.14,1189.60 L729.48,1189.69 L730.81,1190.25 L732.15,1190.93 L733.49,1190.80 L734.83,1190.89 L736.17,1191.08 L737.51,1192.72 L738.85,1193.86 L740.19,1193.63 L741.53,1191.40 L742.87,1189.93 L744.21,1189.74 L745.55,1190.04 L746.88,1189.86 L748.22,1190.10 L749.56,1191.04 L750.90,1190.72 L752.24,1191.13 L753.58,1192.72 L754.92,1193.86 L756.26,1192.98 L757.60,1191.10 L758.94,1190.01 L760.28,1189.25 L761.62,1189.78 L762.95,1189.68 L764.29,1190.30 L765.63,1190.29 L766.97,1190.40 L768.31,1190.90 L769.65,1192.01 L770.99,1193.72 L772.33,1193.34 L773.67,1191.20 L775.01,1189.96 L776.35,1189.49 L777.69,1189.53 L779.02,1189.76 L780.36,1190.45 L781.70,1190.90 L783.04,1190.56 L784.38,1191.13 L785.72,1192.16 L787.06,1193.48 L788.40,1193.31 L789.74,1191.48 L791.08,1189.85 L792.42,1189.43 L793.76,1189.67 L795.09,1190.05 L796.43,1190.35 L797.77,1190.47 L799.11,1190.91 L800.45,1191.12 L801.79,1192.34 L803.13,1193.90 L804.47,1193.29 L805.81,1191.03 L807.15,1189.69 L808.49,1189.29 L809.83,1189.80 L811.16,1189.88 L812.50,1190.13 L813.84,1190.86 L815.18,1190.65 L816.52,1190.82 L817.86,1192.63 L819.20,1193.51 L820.54,1193.08 L821.88,1191.14 L823.22,1189.74 L824.56,1189.15 L825.90,1189.31 L827.23,1190.18 L828.57,1190.58 L829.91,1190.60 L831.25,1190.66 L832.59,1191.38 L833.93,1192.75 L835.27,1193.98 L836.61,1193.69 L837.95,1191.94 L839.29,1190.43 L840.63,1190.10 L841.97,1190.20 L843.30,1190.79 L844.64,1191.09 L845.98,1191.19 L847.32,1191.87 L848.66,1191.69 L850.00,1193.01 L851.34,1194.55 L852.68,1194.07 L854.02,1191.89 L855.36,1190.65 L856.70,1190.32 L858.03,1190.34 L859.37,1190.44 L860.71,1191.04 L862.05,1191.09 L863.39,1191.10 L864.73,1190.79 L866.07,1192.32 L867.41,1193.14 L868.75,1192.90 L870.09,1190.83 L871.43,1188.84 L872.77,1188.17 L874.10,1188.47 L875.44,1188.87 L876.78,1189.23 L878.12,1189.25 L879.46,1189.58 L880.80,1189.28 L882.14,1190.63 L883.48,1192.25 L884.82,1191.58 L886.16,1189.37 L887.50,1187.79 L888.84,1187.25 L890.17,1187.67 L891.51,1188.09 L892.85,1188.25 L894.19,1188.19 L895.53,1188.62 L896.87,1188.66 L898.21,1189.95 L899.55,1191.12 L900.89,1190.49 L902.23,1188.27 L903.57,1187.07 L904.91,1186.72 L906.24,1186.18 L907.58,1186.46 L908.92,1186.58 L910.26,1187.15 L911.60,1186.82 L912.94,1186.86 L914.28,1188.60 L915.62,1189.35 L916.96,1188.59 L918.30,1186.75 L919.64,1185.06 L920.98,1184.70 L922.31,1184.68 L923.65,1184.94 L924.99,1185.22 L926.33,1185.05 L927.67,1185.25 L929.01,1184.90 L930.35,1186.66 L931.69,1187.16 L933.03,1186.58 L934.37,1184.44 L935.71,1182.66 L937.05,1182.12 L938.38,1182.33 L939.72,1182.81 L941.06,1182.36 L942.40,1182.77 L943.74,1182.55 L945.08,1182.16 L946.42,1183.37 L947.76,1184.38 L949.10,1183.17 L950.44,1181.27 L951.78,1179.51 L953.12,1178.89 L954.45,1178.34 L955.79,1178.70 L957.13,1178.67 L958.47,1179.13 L959.81,1179.23 L961.15,1179.00 L962.49,1180.07 L963.83,1181.57 L965.17,1180.44 L966.51,1178.37 L967.85,1176.65 L969.19,1176.09 L970.52,1176.63 L971.86,1176.49 L973.20,1176.72 L974.54,1177.64 L975.88,1177.70 L977.22,1177.90 L978.56,1179.19 L979.90,1180.54 L981.24,1179.99 L982.58,1178.02 L983.92,1176.94 L985.26,1176.57 L986.59,1176.72 L987.93,1177.06 L989.27,1177.39 L990.61,1177.08 L991.95,1177.27 L993.29,1177.89 L994.63,1178.98 L995.97,1180.29 L997.31,1179.68 L998.65,1177.79 L999.99,1175.91 L1001.33,1175.52 L1002.66,1175.78 L1004.00,1176.14 L1005.34,1176.25 L1006.68,1176.58 L1008.02,1176.31 L1009.36,1176.22 L1010.70,1177.72 L1012.04,1179.02 L1013.38,1178.25 L1014.72,1176.17 L1016.06,1174.24 L1017.40,1173.60 L1018.73,1173.88 L1020.07,1173.80 L1021.41,1174.12 L1022.75,1174.44 L1024.09,1174.50 L1025.43,1174.44 L1026.77,1175.58 L1028.11,1176.86 L1029.45,1175.98 L1030.79,1174.18 L1032.13,1172.54 L1033.47,1171.83 L1034.80,1171.74 L1036.14,1172.39 L1037.48,1172.42 L1038.82,1172.69 L1040.16,1172.47 L1041.50,1172.52" fill="none" stroke="#f5808a" stroke-width="3" stroke-linejoin="round" stroke-linecap="round"/>
<path d="M658.50,1116.21 L659.84,1115.40 L661.18,1113.95 L662.52,1112.94 L663.86,1112.50 L665.20,1112.88 L666.53,1112.80 L667.87,1113.37 L669.21,1113.69 L670.55,1114.06 L671.89,1114.46 L673.23,1115.79 L674.57,1117.13 L675.91,1117.14 L677.25,1115.46 L678.59,1114.64 L679.93,1114.40 L681.27,1114.30 L682.60,1115.28 L683.94,1115.78 L685.28,1116.31 L686.62,1116.18 L687.96,1117.03 L689.30,1118.57 L690.64,1119.32 L691.98,1119.58 L693.32,1117.81 L694.66,1116.78 L696.00,1116.60 L697.34,1116.91 L698.67,1117.64 L700.01,1117.94 L701.35,1118.89 L702.69,1118.69 L704.03,1119.15 L705.37,1120.37 L706.71,1121.98 L708.05,1121.23 L709.39,1119.73 L710.73,1119.08 L712.07,1118.74 L713.41,1118.87 L714.74,1119.15 L716.08,1120.00 L717.42,1120.51 L718.76,1120.77 L720.10,1120.84 L721.44,1122.13 L722.78,1123.59 L724.12,1123.31 L725.46,1121.94 L726.80,1120.76 L728.14,1120.57 L729.48,1121.11 L730.81,1121.23 L732.15,1121.24 L733.49,1121.94 L734.83,1121.89 L736.17,1122.46 L737.51,1123.34 L738.85,1124.39 L740.19,1124.01 L741.53,1122.62 L742.87,1121.30 L744.21,1120.91 L745.55,1120.92 L746.88,1121.74 L748.22,1122.10 L749.56,1121.99 L750.90,1122.06 L752.24,1122.50 L753.58,1123.79 L754.92,1124.69 L756.26,1124.61 L757.60,1123.06 L758.94,1121.76 L760.28,1121.22 L761.62,1121.58 L762.95,1121.96 L764.29,1121.98 L765.63,1122.13 L766.97,1122.75 L768.31,1122.65 L769.65,1124.08 L770.99,1124.88 L772.33,1124.62 L773.67,1123.34 L775.01,1122.02 L776.35,1121.87 L777.69,1121.74 L779.02,1122.16 L780.36,1122.67 L781.70,1122.92 L783.04,1123.17 L784.38,1123.09 L785.72,1124.79 L787.06,1125.36 L788.40,1125.31 L789.74,1123.78 L791.08,1122.57 L792.42,1122.09 L793.76,1122.32 L795.09,1122.93 L796.43,1123.47 L797.77,1123.80 L799.11,1124.04 L800.45,1124.68 L801.79,1125.86 L803.13,1126.96 L804.47,1127.01 L805.81,1125.83 L807.15,1124.65 L808.49,1124.21 L809.83,1124.57 L811.16,1124.83 L812.50,1125.29 L813.84,1126.09 L815.18,1126.37 L816.52,1126.57 L817.86,1127.93 L819.20,1128.74 L820.54,1128.27 L821.88,1126.82 L823.22,1125.97 L824.56,1125.35 L825.90,1125.96 L827.23,1126.30 L828.57,1126.51 L829.91,1127.36 L831.25,1127.62 L832.59,1127.40 L833.93,1129.09 L835.27,1130.22 L836.61,1129.73 L837.95,1128.27 L839.29,1127.46 L840.63,1127.05 L841.97,1127.25 L843.30,1127.61 L844.64,1128.17 L845.98,1128.29 L847.32,1128.27 L848.66,1128.86 L850.00,1130.05 L851.34,1131.46 L852.68,1130.97 L854.02,1129.26 L855.36,1128.33 L856.70,1127.58 L858.03,1127.79 L859.37,1128.70 L860.71,1128.51 L862.05,1129.26 L863.39,1129.22 L864.73,1129.45 L866.07,1131.04 L867.41,1131.92 L868.75,1131.55 L870.09,1130.00 L871.43,1129.06 L872.77,1128.50 L874.10,1128.58 L875.44,1129.12 L876.78,1129.54 L878.12,1130.15 L879.46,1130.07 L880.80,1130.34 L882.14,1131.34 L883.48,1132.45 L884.82,1132.09 L886.16,1130.85 L887.50,1129.20 L888.84,1128.93 L890.17,1129.40 L891.51,1129.26 L892.85,1129.74 L894.19,1130.42 L895.53,1130.06 L896.87,1130.76 L898.21,1131.87 L899.55,1132.70 L900.89,1132.35 L902.23,1130.88 L903.57,1129.47 L904.91,1129.32 L906.24,1129.59 L907.58,1129.98 L908.92,1130.34 L910.26,1130.19 L911.60,1130.29 L912.94,1130.56 L914.28,1131.62 L915.62,1132.91 L916.96,1132.50 L918.30,1130.88 L919.64,1129.16 L920.98,1129.39 L922.31,1129.21 L923.65,1129.66 L924.99,1129.59 L926.33,1130.15 L927.67,1130.29 L929.01,1130.38 L930.35,1131.48 L931.69,1132.36 L933.03,1132.16 L934.37,1130.29 L935.71,1129.39 L937.05,1128.96 L938.38,1129.20 L939.72,1129.40 L941.06,1129.10 L942.40,1129.28 L943.74,1129.63 L945.08,1129.62 L946.42,1130.52 L947.76,1131.21 L949.10,1130.54 L950.44,1128.91 L951.78,1127.48 L953.12,1127.31 L954.45,1127.14 L955.79,1127.47 L957.13,1127.51 L958.47,1127.74 L959.81,1128.09 L961.15,1128.16 L962.49,1128.98 L963.83,1130.50 L965.17,1129.48 L966.51,1127.86 L967.85,1126.41 L969.19,1126.43 L970.52,1126.43 L971.86,1126.69 L973.20,1126.96 L974.54,1127.03 L975.88,1127.38 L977.22,1127.79 L978.56,1128.63 L979.90,1129.94 L981.24,1129.41 L982.58,1127.81 L983.92,1126.92 L985.26,1126.11 L986.59,1126.33 L987.93,1126.76 L989.27,1127.06 L990.61,1127.43 L991.95,1127.79 L993.29,1127.74 L994.63,1129.30 L995.97,1130.08 L997.31,1129.55 L998.65,1128.19 L999.99,1126.76 L1001.33,1126.22 L1002.66,1126.44 L1004.00,1127.25 L1005.34,1127.09 L1006.68,1127.49 L1008.02,1127.99 L1009.36,1127.92 L1010.70,1129.19 L1012.04,1130.34 L1013.38,1129.55 L1014.72,1127.75 L1016.06,1126.76 L1017.40,1126.07 L1018.73,1126.32 L1020.07,1126.96 L1021.41,1126.74 L1022.75,1127.17 L1024.09,1127.06 L1025.43,1127.30 L1026.77,1128.46 L1028.11,1129.74 L1029.45,1128.93 L1030.79,1127.28 L1032.13,1125.91 L1033.47,1125.84 L1034.80,1125.74 L1036.14,1126.18 L1037.48,1126.68 L1038.82,1126.99 L1040.16,1127.07 L1041.50,1127.09" fill="none" stroke="#0f4c7d" stroke-width="3" stroke-linejoin="round" stroke-linecap="round"/>
<path d="M658.50,1155.01 L659.84,1154.34 L661.18,1152.68 L662.52,1151.42 L663.86,1151.20 L665.20,1151.20 L666.53,1151.78 L667.87,1152.07 L669.21,1152.27 L670.55,1152.75 L671.89,1153.14 L673.23,1153.97 L674.57,1155.24 L675.91,1155.11 L677.25,1153.68 L678.59,1152.30 L679.93,1152.05 L681.27,1152.54 L682.60,1153.13 L683.94,1153.48 L685.28,1153.58 L686.62,1154.34 L687.96,1154.47 L689.30,1156.05 L690.64,1157.28 L691.98,1157.04 L693.32,1155.55 L694.66,1154.52 L696.00,1154.50 L697.34,1154.78 L698.67,1155.18 L700.01,1155.36 L701.35,1156.04 L702.69,1156.31 L704.03,1156.27 L705.37,1157.61 L706.71,1158.57 L708.05,1158.64 L709.39,1156.98 L710.73,1155.71 L712.07,1155.74 L713.41,1155.36 L714.74,1156.25 L716.08,1156.73 L717.42,1156.87 L718.76,1157.32 L720.10,1157.26 L721.44,1158.75 L722.78,1160.06 L724.12,1159.74 L725.46,1157.87 L726.80,1156.89 L728.14,1156.34 L729.48,1156.80 L730.81,1156.84 L732.15,1157.56 L733.49,1157.90 L734.83,1158.04 L736.17,1157.83 L737.51,1159.16 L738.85,1160.42 L740.19,1160.13 L741.53,1158.22 L742.87,1156.66 L744.21,1156.61 L745.55,1157.15 L746.88,1157.44 L748.22,1157.70 L749.56,1157.95 L750.90,1158.19 L752.24,1158.33 L753.58,1159.15 L754.92,1160.05 L756.26,1160.06 L757.60,1158.02 L758.94,1156.99 L760.28,1156.47 L761.62,1156.54 L762.95,1156.83 L764.29,1157.74 L765.63,1157.86 L766.97,1157.81 L768.31,1157.74 L769.65,1159.52 L770.99,1160.45 L772.33,1159.63 L773.67,1158.59 L775.01,1157.04 L776.35,1156.78 L777.69,1156.70 L779.02,1156.86 L780.36,1157.71 L781.70,1157.69 L783.04,1157.89 L784.38,1158.02 L785.72,1159.47 L787.06,1160.33 L788.40,1160.29 L789.74,1158.79 L791.08,1157.59 L792.42,1156.97 L793.76,1157.36 L795.09,1157.86 L796.43,1158.30 L797.77,1158.31 L799.11,1158.61 L800.45,1158.76 L801.79,1160.26 L803.13,1161.32 L804.47,1161.16 L805.81,1159.34 L807.15,1158.50 L808.49,1157.97 L809.83,1158.00 L811.16,1158.42 L812.50,1159.18 L813.84,1159.46 L815.18,1159.28 L816.52,1159.63 L817.86,1160.76 L819.20,1161.90 L820.54,1161.79 L821.88,1160.04 L823.22,1158.85 L824.56,1158.88 L825.90,1159.08 L827.23,1159.65 L828.57,1159.81 L829.91,1159.81 L831.25,1160.60 L832.59,1160.51 L833.93,1162.10 L835.27,1163.25 L836.61,1162.49 L837.95,1161.31 L839.29,1160.14 L840.63,1159.83 L841.97,1159.73 L843.30,1160.13 L844.64,1160.86 L845.98,1161.06 L847.32,1160.77 L848.66,1161.47 L850.00,1162.50 L851.34,1163.70 L852.68,1163.06 L854.02,1161.70 L855.36,1160.26 L856.70,1160.17 L858.03,1160.59 L859.37,1160.91 L860.71,1161.23 L862.05,1160.99 L863.39,1161.57 L864.73,1161.73 L866.07,1162.28 L867.41,1163.80 L868.75,1162.84 L870.09,1161.81 L871.43,1160.15 L872.77,1159.96 L874.10,1159.66 L875.44,1160.07 L876.78,1160.34 L878.12,1160.54 L879.46,1160.59 L880.80,1161.07 L882.14,1162.09 L883.48,1163.24 L884.82,1162.98 L886.16,1160.96 L887.50,1159.73 L888.84,1159.26 L890.17,1159.79 L891.51,1159.84 L892.85,1160.14 L894.19,1160.23 L895.53,1160.76 L896.87,1160.69 L898.21,1161.77 L899.55,1163.06 L900.89,1162.24 L902.23,1160.55 L903.57,1159.35 L904.91,1158.85 L906.24,1158.98 L907.58,1159.48 L908.92,1159.60 L910.26,1159.38 L911.60,1159.88 L912.94,1159.88 L914.28,1161.23 L915.62,1162.11 L916.96,1161.60 L918.30,1159.48 L919.64,1158.16 L920.98,1157.66 L922.31,1157.65 L923.65,1158.10 L924.99,1158.07 L926.33,1158.52 L927.67,1158.64 L929.01,1158.33 L930.35,1159.46 L931.69,1160.37 L933.03,1160.11 L934.37,1158.28 L935.71,1157.04 L937.05,1156.23 L938.38,1156.32 L939.72,1156.87 L941.06,1156.52 L942.40,1157.09 L943.74,1157.07 L945.08,1156.58 L946.42,1157.84 L947.76,1158.53 L949.10,1157.76 L950.44,1156.41 L951.78,1154.35 L953.12,1154.12 L954.45,1153.94 L955.79,1154.12 L957.13,1154.02 L958.47,1154.18 L959.81,1154.50 L961.15,1154.64 L962.49,1155.59 L963.83,1156.44 L965.17,1156.06 L966.51,1154.36 L967.85,1152.45 L969.19,1152.05 L970.52,1151.88 L971.86,1152.12 L973.20,1152.52 L974.54,1153.18 L975.88,1153.49 L977.22,1153.57 L978.56,1154.71 L979.90,1155.75 L981.24,1155.31 L982.58,1153.93 L983.92,1152.26 L985.26,1152.36 L986.59,1152.41 L987.93,1152.44 L989.27,1152.77 L990.61,1153.39 L991.95,1153.55 L993.29,1153.31 L994.63,1155.03 L995.97,1155.99 L997.31,1155.25 L998.65,1153.70 L999.99,1152.56 L1001.33,1152.31 L1002.66,1152.33 L1004.00,1152.20 L1005.34,1152.62 L1006.68,1152.49 L1008.02,1152.68 L1009.36,1152.61 L1010.70,1154.36 L1012.04,1155.23 L1013.38,1154.79 L1014.72,1152.91 L1016.06,1151.51 L1017.40,1151.30 L1018.73,1151.04 L1020.07,1151.55 L1021.41,1151.61 L1022.75,1151.87 L1024.09,1151.56 L1025.43,1151.87 L1026.77,1153.10 L1028.11,1154.22 L1029.45,1153.41 L1030.79,1151.67 L1032.13,1150.18 L1033.47,1149.63 L1034.80,1149.76 L1036.14,1150.35 L1037.48,1150.66 L1038.82,1150.48 L1040.16,1150.54 L1041.50,1150.81" fill="none" stroke="#ee0000" stroke-width="3" stroke-linejoin="round" stroke-linecap="round"/>
<line x1="711.2" y1="1068" x2="748.5" y2="1068" stroke="#ee0000" stroke-width="3.2" stroke-linecap="round"/>
<text x="752.5" y="1074.5" class="ax" font-size="17">整体</text>
<line x1="803.2" y1="1068" x2="840.5" y2="1068" stroke="#0f4c7d" stroke-width="3.2" stroke-linecap="round"/>
<text x="844" y="1074.5" class="ax" font-size="17">男性</text>
<line x1="896.0" y1="1068" x2="933.3" y2="1068" stroke="#f5808a" stroke-width="3.2" stroke-linecap="round"/>
<text x="938" y="1074.5" class="ax" font-size="17">女性</text>
<rect x="113" y="1554" width="965" height="2" fill="#0b4a7a"/>
<rect x="113" y="1583" width="965" height="4.6" fill="#064f80"/>
</svg>

<div class="a bs" id="logo-cn" style="left:188px;top:96.2px;font-size:30px;line-height:30px;-webkit-text-stroke:0.3px #000;transform:scaleY(0.93);transform-origin:0 15px;">中信建投证券</div>
<div class="a sans" id="logo-en" style="left:188px;top:129px;font-size:17.5px;line-height:17.5px;font-weight:bold;letter-spacing:1.1px;">CHINA SECURITIES</div>
<div class="a b" id="hdr" style="left:983px;top:123px;font-size:19.5px;line-height:19.5px;color:#fff;">商贸零售</div>
<div class="a" id="rpt" style="left:976px;top:180px;font-size:16px;line-height:16px;color:#3c4a5a;-webkit-text-stroke:0.35px #fff;">行业深度报告</div>

<div class="a ft" id="t8" style="left:125px;top:227px;">图 <span class="bs">8</span>:日本进口价格指数、日元汇率和 <span class="bs">CPI</span></div>
<div class="a src" id="s8" style="left:124px;top:639px;">数据来源：<span class="lat">Wind</span>，中信建投证券</div>

<div class="a bs" id="h1" style="left:113px;top:737.5px;font-size:28px;line-height:28px;"><span style="position:relative;left:-3.5px">（</span>二）消费：刚需物质品类和精神消费品类增速领先</div>
<div class="a" id="h2" style="left:113px;top:800px;font-size:24px;line-height:24px;color:#1a4a78;"><span class="serif">1</span><span class="sans">、就业：劳动参与率与就业率呈现缓慢改善之势</span></div>

<div class="ln" id="p1a" style="top:849.5px;padding-left:40px;width:925px;"><span class="b">整体劳动参与率呈现<span class="q" style="text-align:left;padding-left:8px;width:12px">“</span><span class="serif" style="font-weight:normal;position:relative;top:-1.5px"><span class="lat">V</span></span><span class="q" style="text-align:left;padding-left:2px;width:18px">”</span>字趋势，女性劳动参与率提升。</span><span class="lat">2000</span> 年以来，日本劳动参与率大致分为两个阶</div>
<div class="ln" id="p1b" style="top:880.6px;">段，中间分界线为 <span class="lat">2012</span> 年安倍晋三上台，第一阶段为 <span class="lat">2000</span> 年<span class="lat">-2012</span> 年，此阶段劳动参与率从超过 <span class="lat">62%</span>下降至</div>
<div class="ln" id="p1c" style="top:911.7px;"><span class="lat">59%</span>；第二阶段为 <span class="lat">2012</span> 年至今，该阶段劳动参与率成上升趋势，主要受到女性劳动参与率上升影响，而男性劳</div>
<div class="ln last" id="p1d" style="top:942.8px;">动参与率则下降。</div>

<div class="a ft" id="t9" style="left:125px;top:999px;">图 <span class="bs">9</span>:日本劳动参与率</div>
<div class="a ft" id="t10" style="left:607px;top:999px;">图 <span class="bs">10</span>:日本分性别劳动参与率</div>
<div class="a src" id="s9" style="left:124px;top:1349px;">数据来源：<span class="lat">Wind</span>，中信建投证券</div>
<div class="a src" id="s10" style="left:606.5px;top:1349px;">数据来源：<span class="lat">Wind</span>，中信建投证券</div>

<div class="ln" id="p2a" style="top:1409.5px;padding-left:40px;width:925px;"><span class="b">劳动逐步需求好转，日本失业率整体保持呈现下行趋势。</span>受到经济低迷的持续影响，劳动力需求低迷，<span class="lat">20</span></div>
<div class="ln" id="p2b" style="top:1440.6px;">世纪初日本失业率仍然保持较高水平，<span class="lat">2002</span> 年达到高点 <span class="lat">5.4%</span>。之后，虽然失业率保持较高水平，但是劳动力需</div>
<div class="ln" id="p2c" style="top:1471.7px;">求逐步改善使得整体失业率呈现改善趋势。<span class="lat">2008</span> 年金融危机后失业率又短暂抬升，之后继续改善趋势。<span class="lat">2000</span> 年</div>
<div class="ln last" id="p2d" style="top:1502.8px;">以来，细分群体中青年失业率变化较大，由相对较高的水平逐渐降低至较低水平。</div>

<div class="a" id="foot" style="left:114px;top:1562px;font-size:18px;line-height:18px;color:#000;-webkit-text-stroke:0.35px #fff;">请务必阅读正文之后的免责条款和声明。</div>
<div class="a" id="pn" style="left:1066px;top:1595px;font-size:18px;line-height:18px;">4</div>
</body>
</html>
